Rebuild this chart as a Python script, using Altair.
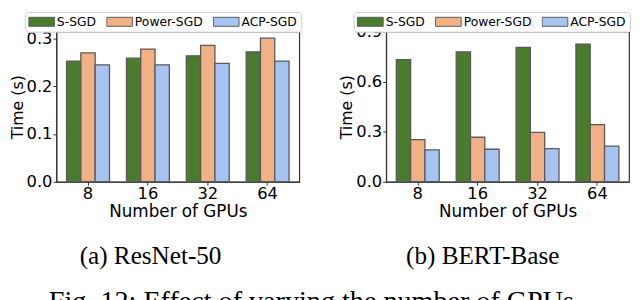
import altair as alt
import pandas as pd

gpus = ["8", "16", "32", "64"]
methods = ["S-SGD", "Power-SGD", "ACP-SGD"]
colors = ["#4b7b2d", "#f2b184", "#a6c3f2"]

resnet_ssgd = [0.253, 0.259, 0.264, 0.272]
resnet_power = [0.270, 0.278, 0.286, 0.301]
resnet_acp = [0.245, 0.245, 0.248, 0.253]

bert_ssgd = [0.732, 0.779, 0.806, 0.826]
bert_power = [0.253, 0.267, 0.296, 0.343]
bert_acp = [0.191, 0.195, 0.199, 0.214]

resnet_ticks = [0.0, 0.1, 0.2, 0.3]
bert_ticks = [0.0, 0.3, 0.6, 0.9]


def frame(series):
    rows = []
    for m, vals in zip(methods, series):
        for g, v in zip(gpus, vals):
            rows.append({"gpus": g, "method": m, "time": v})
    return pd.DataFrame(rows)


def panel(df, ymax, ticks, subtitle, legend_x, dx):
    return (
        alt.Chart(
            df,
            title=alt.TitleParams(
                subtitle,
                orient="bottom",
                anchor="middle",
                frame="bounds",
                baseline="top",
                font="Liberation Serif",
                fontSize=25.5,
                fontWeight="normal",
                color="black",
                offset=25,
                dx=dx,
            ),
        )
        .mark_bar(stroke="#5a5a5a", strokeWidth=1.3)
        .encode(
            x=alt.X(
                "gpus:N",
                sort=gpus,
                title="Number of GPUs",
                scale=alt.Scale(paddingInner=0.283, paddingOuter=0.17),
                axis=alt.Axis(labelAngle=0, labelPadding=0, titlePadding=2),
            ),
            xOffset=alt.XOffset(
                "method:N", sort=methods,
                scale=alt.Scale(paddingInner=0, paddingOuter=0),
            ),
            y=alt.Y(
                "time:Q",
                scale=alt.Scale(domain=[0, ymax], nice=False, zero=True),
                axis=alt.Axis(values=ticks, format=".1f", title="Time (s)",
                              labelPadding=1, titlePadding=1, titleFontSize=16),
            ),
            color=alt.Color(
                "method:N",
                sort=methods,
                scale=alt.Scale(domain=methods, range=colors),
                legend=alt.Legend(
                    orient="none",
                    legendX=legend_x,
                    legendY=-20,
                    direction="horizontal",
                    title=None,
                    symbolType="M-1,-0.35H1V0.35H-1Z",
                    symbolSize=676,
                    clipHeight=13,
                    symbolStrokeColor="#5a5a5a",
                    symbolStrokeWidth=1,
                    symbolOpacity=1,
                    labelFont="DejaVu Sans",
                    labelFontSize=12.5,
                    labelColor="black",
                    labelOffset=2,
                    columnPadding=10,
                    padding=3.5,
                    strokeColor="#cccccc",
                    fillColor="white",
                    cornerRadius=3,
                ),
            ),
        )
        .properties(width=246, height=152)
    )


left = panel(frame([resnet_ssgd, resnet_power, resnet_acp]), 0.3145, resnet_ticks,
             "(a) ResNet-50", -32, -5)
right = panel(frame([bert_ssgd, bert_power, bert_acp]), 0.9, bert_ticks,
              "(b) BERT-Base", -33, -2)

chart = (
    alt.hconcat(left, right, spacing=35)
    .resolve_scale(color="independent", y="independent")
    .resolve_legend(color="independent")
    .properties(
        padding={"left": 0, "top": 0, "right": 0, "bottom": 0},
        title=alt.TitleParams(
            "Fig. 12: Effect of varying the number of GPUs.",
            orient="bottom",
            anchor="middle",
            baseline="top",
            font="Liberation Serif",
            fontSize=28.5,
            fontWeight="normal",
            color="black",
            offset=18,
            dx=-5,
        ),
    )
    .configure_view(stroke="#333333", strokeWidth=1.2)
    .configure_legend(labelFont="DejaVu Sans")
    .configure_axis(
        grid=False,
        labelFont="DejaVu Sans",
        labelFontSize=16.5,
        labelColor="black",
        titleFont="DejaVu Sans",
        titleFontSize=17,
        titleFontWeight="normal",
        titleColor="black",
        tickColor="#333333",
        tickSize=3.5,
        domainColor="#333333",
    )
)

chart.save("out.html", embed_options={"renderer": "svg", "actions": False})
